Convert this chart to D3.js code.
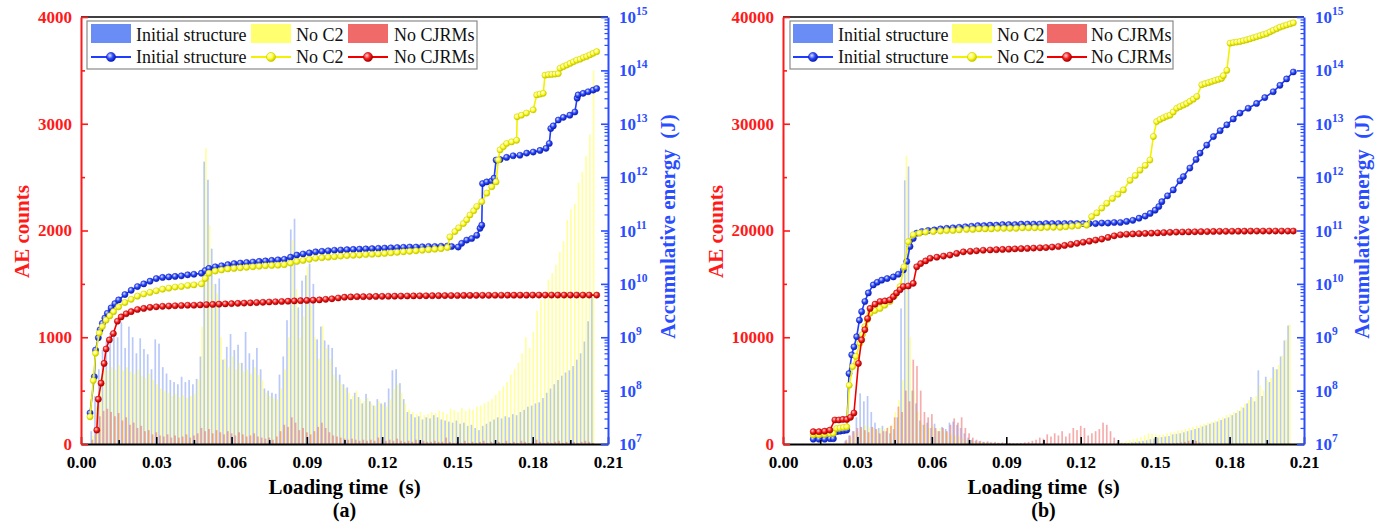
<!DOCTYPE html>
<html>
<head>
<meta charset="utf-8">
<script src="https://cdn.jsdelivr.net/npm/d3@7/dist/d3.min.js"></script>
<style>
  body { margin: 0; background: #ffffff; }
  svg { display: block; }
  text { font-family: "Liberation Serif", "Times New Roman", serif; }
</style>
</head>
<body>
<svg id="chart" width="1388" height="523"></svg>
<script>
// ---------------- data ----------------
const seriesNames = ["Initial structure", "No C2", "No CJRMs"];
const timeTicks = [0, 0.03, 0.06, 0.09, 0.12, 0.15, 0.18, 0.21];
const timeMinorTicks = [0.015, 0.045, 0.075, 0.105, 0.135, 0.165, 0.195];
const countTicksA = [0, 1000, 2000, 3000, 4000];
const countMinorA = [500, 1500, 2500, 3500];
const countTicksB = [0, 10000, 20000, 30000, 40000];
const countMinorB = [5000, 15000, 25000, 35000];
const energyDecades = [7, 8, 9, 10, 11, 12, 13, 14, 15];

// AE count histogram bins (s)
const binWidth = 0.0015;
const binStartA = 0.0045;
const binStartB = 0.0255;

// (a) AE counts per bin
const countsA_initial = [
  120,450,700,880,960,1040,1060,1000,1140,900,
  1100,1000,850,990,890,840,700,980,940,720,
  660,600,580,560,630,580,600,560,610,820,
  2645,2475,1830,1500,1550,790,910,1030,880,930,
  760,1050,850,790,900,700,520,500,480,470,
  650,820,1160,2010,2110,1280,1530,1580,1690,1500,
  980,1100,970,930,900,720,650,560,530,420,
  480,440,380,470,400,360,420,380,390,520,
  690,700,570,420,300,280,250,260,230,250,
  240,270,250,230,220,210,200,220,190,200,
  170,180,150,130,170,190,210,230,250,240,
  260,250,280,270,300,320,350,360,380,390,
  430,480,520,560,600,640,670,690,730,790,
  850,960,1150,1380
];
const countsA_noC2 = [
  80,350,620,700,690,720,700,740,690,720,
  680,660,700,640,620,660,600,560,520,500,
  480,450,470,440,460,430,450,470,600,1100,
  2770,2050,1500,1410,1000,800,720,820,700,760,
  680,700,660,720,650,600,480,450,430,420,
  520,700,1000,1910,1450,1000,1200,1660,1300,1000,
  800,1110,900,800,650,600,560,520,480,450,
  500,420,400,430,380,360,400,370,350,420,
  520,560,480,380,320,300,280,300,270,280,
  300,290,310,300,280,330,320,300,340,310,
  330,320,350,360,380,400,420,460,500,540,
  580,650,700,760,850,1000,900,1050,1250,1350,
  1420,1540,1600,1680,1800,1900,2100,2200,2250,2450,
  2550,2700,2900,3500
];
const countsA_noCJRMs = [
  40,150,260,310,330,300,260,290,220,250,
  180,200,150,170,120,130,90,110,80,70,
  90,60,80,60,70,90,60,80,100,150,
  120,140,100,130,110,90,120,100,80,110,
  90,70,80,100,70,60,50,60,40,70,
  120,180,160,250,200,130,150,110,90,120,
  160,200,150,110,80,70,60,50,40,50,
  40,30,40,30,40,30,60,40,30,40,
  30,50,30,20,30,20,40,20,30,20,
  20,30,20,20,60,20,10,20,10,30,
  10,20,10,20,30,10,20,10,20,10,
  30,10,20,10,30,20,10,20,40,20,
  10,20,10,20,30,10,20,10,20,10,
  20,30,20,10
];

// (b) AE counts per bin
const countsB_initial = [
  300,800,1200,2500,4750,4000,4500,3000,2000,1500,
  1700,1200,1000,1400,2500,12700,24700,26000,5000,3800,
  2200,1800,2000,1500,1900,1200,1600,1400,2000,2100,
  1800,1500,1000,600,400,300,250,200,150,150,
  100,120,100,80,100,80,60,80,60,50,
  40,50,40,30,40,30,20,30,40,30,
  20,30,40,30,20,30,40,30,20,30,
  40,30,20,50,80,100,100,150,200,250,
  300,350,450,500,600,650,700,750,900,950,
  1000,1100,1200,1300,1400,1500,1650,1750,1900,2000,
  2100,2250,2400,2500,2700,2900,3100,3400,3800,4400,
  4000,6900,4500,6300,5800,7200,7000,8200,9700,11100
];
const countsB_noC2 = [
  200,600,1000,1200,1500,1800,1600,1500,1300,1500,
  1400,1600,1800,3000,4100,6000,27000,10000,5000,3000,
  2000,1800,1500,1700,1300,1500,1200,1100,900,800,
  700,500,400,300,250,200,200,150,150,120,
  100,100,80,80,60,60,50,50,40,40,
  30,40,30,30,20,30,30,20,30,30,
  20,30,30,20,30,20,30,30,20,30,
  30,20,30,80,150,250,350,450,550,650,
  800,1000,950,900,850,900,1000,1100,1150,1250,
  1300,1400,1500,1600,1700,1800,1900,2000,2100,2200,
  2400,2500,2700,2800,3000,3200,3500,3800,4100,4300,
  4500,5500,5000,6000,6200,7000,7400,8300,9800,11200
];
const countsB_noCJRMs = [
  400,800,1200,1500,1600,1300,1100,1600,1400,1000,
  1200,1500,1700,2500,3500,3000,5000,4000,7900,7300,
  5000,3000,2500,2800,1500,1200,1500,1200,1800,2400,
  2000,2500,1500,1000,600,400,300,200,250,150,
  200,100,150,80,100,60,80,100,150,200,
  300,400,600,500,900,700,1000,800,1200,700,
  1000,1500,1300,1700,1500,800,1000,1200,1400,2000,
  1800,1200,600,200,100,80,60,50,40,60,
  50,40,30,50,40,60,50,40,80,100,
  150,200,300,250,300,150,80,60,50,40,
  50,40,30,40,30,50,40,30,40,30,
  40,30,20,30,40,30,20,30,20,30
];

// accumulative energy: [time (s), log10 of energy (J)]
const energyA_initial = [
  [0.0036,7.58],[0.0053,8.26],[0.0058,8.76],[0.0069,8.99],[0.0076,9.14],[0.0085,9.26],
  [0.0095,9.36],[0.0105,9.45],[0.012,9.55],[0.0135,9.63],[0.015,9.70],[0.0175,9.80],
  [0.02,9.88],[0.0225,9.95],[0.025,10.00],[0.0275,10.05],[0.03,10.10],[0.0325,10.12],
  [0.035,10.13],[0.0375,10.14],[0.04,10.15],[0.0425,10.17],[0.045,10.18],[0.048,10.20],
  [0.0495,10.25],[0.051,10.29],[0.0535,10.32],[0.056,10.34],[0.0585,10.36],[0.061,10.38],
  [0.0635,10.39],[0.066,10.40],[0.0685,10.41],[0.071,10.42],[0.0735,10.43],[0.076,10.44],
  [0.0785,10.45],[0.081,10.46],[0.0835,10.50],[0.086,10.54],[0.0885,10.56],[0.091,10.58],
  [0.0935,10.60],[0.096,10.61],[0.0985,10.62],[0.101,10.63],[0.1035,10.635],[0.106,10.64],
  [0.1085,10.645],[0.111,10.65],[0.1135,10.655],[0.116,10.66],[0.1185,10.665],[0.121,10.67],
  [0.1235,10.675],[0.126,10.68],[0.1285,10.685],[0.131,10.69],[0.1335,10.69],[0.136,10.695],
  [0.1385,10.70],[0.141,10.70],[0.1435,10.705],[0.146,10.71],[0.1477,10.70],[0.1503,10.69],
  [0.1517,10.76],[0.1537,10.82],[0.1557,10.85],[0.1577,10.91],[0.159,11.04],[0.1597,11.10],
  [0.160,11.88],[0.1617,11.91],[0.1637,11.93],[0.1646,11.98],[0.1654,12.32],[0.167,12.33],
  [0.1696,12.37],[0.1722,12.40],[0.1749,12.41],[0.1776,12.45],[0.1802,12.47],[0.1829,12.50],
  [0.1853,12.54],[0.1866,12.63],[0.1872,12.91],[0.1882,12.96],[0.1902,13.07],[0.1922,13.12],
  [0.1948,13.16],[0.1968,13.22],[0.1977,13.48],[0.1981,13.54],[0.2001,13.57],[0.2021,13.60],
  [0.2041,13.63],[0.2055,13.66]
];
const energyA_noC2 = [
  [0.0036,7.51],[0.0049,8.19],[0.0058,8.70],[0.0073,9.08],[0.0085,9.20],[0.010,9.32],
  [0.0115,9.40],[0.013,9.48],[0.015,9.57],[0.0175,9.65],[0.02,9.71],[0.0225,9.77],
  [0.025,9.81],[0.0275,9.84],[0.03,9.87],[0.0325,9.90],[0.035,9.92],[0.0375,9.94],
  [0.04,9.95],[0.0425,9.97],[0.045,9.98],[0.048,10.00],[0.0495,10.10],[0.051,10.20],
  [0.0535,10.24],[0.056,10.26],[0.0585,10.28],[0.061,10.29],[0.0635,10.30],[0.066,10.31],
  [0.0685,10.32],[0.071,10.33],[0.0735,10.34],[0.076,10.345],[0.0785,10.35],[0.081,10.36],
  [0.0835,10.39],[0.086,10.42],[0.0885,10.44],[0.091,10.46],[0.0935,10.48],[0.096,10.49],
  [0.0985,10.50],[0.101,10.51],[0.1035,10.52],[0.106,10.53],[0.1085,10.535],[0.111,10.54],
  [0.1135,10.55],[0.116,10.555],[0.1185,10.56],[0.121,10.57],[0.1235,10.58],[0.126,10.59],
  [0.1285,10.60],[0.131,10.61],[0.1335,10.62],[0.136,10.63],[0.1385,10.64],[0.141,10.65],
  [0.1435,10.66],[0.146,10.68],[0.147,10.88],[0.149,10.98],[0.1505,11.05],[0.1524,11.13],
  [0.1537,11.20],[0.155,11.29],[0.1565,11.37],[0.1577,11.45],[0.1597,11.54],[0.1617,11.70],
  [0.1637,11.82],[0.1654,11.91],[0.1663,12.32],[0.167,12.51],[0.1683,12.57],[0.1696,12.63],
  [0.1716,12.66],[0.1736,12.69],[0.1738,13.13],[0.1755,13.16],[0.1775,13.20],[0.1802,13.26],
  [0.1816,13.54],[0.1829,13.555],[0.1842,13.57],[0.1849,13.91],[0.1862,13.92],[0.1876,13.925],
  [0.1889,13.93],[0.1902,13.94],[0.1909,14.04],[0.1922,14.07],[0.1936,14.10],[0.1949,14.13],
  [0.1962,14.16],[0.1975,14.19],[0.1989,14.21],[0.2002,14.24],[0.2015,14.26],[0.2028,14.29],
  [0.2041,14.32],[0.2055,14.35]
];
const energyA_noCJRMs = [
  [0.0063,7.26],[0.0069,7.84],[0.008,8.14],[0.0092,8.51],[0.010,8.78],[0.0113,8.95],
  [0.0129,9.07],[0.0145,9.30],[0.016,9.38],[0.018,9.44],[0.02,9.48],[0.0225,9.52],
  [0.025,9.54],[0.0275,9.56],[0.03,9.57],[0.0325,9.58],[0.035,9.585],[0.0375,9.59],
  [0.04,9.595],[0.0425,9.60],[0.045,9.60],[0.0475,9.605],[0.05,9.61],[0.0525,9.615],
  [0.055,9.62],[0.0575,9.625],[0.06,9.63],[0.0625,9.635],[0.065,9.64],[0.0675,9.645],
  [0.07,9.65],[0.0725,9.655],[0.075,9.66],[0.0775,9.665],[0.08,9.67],[0.0825,9.675],
  [0.085,9.68],[0.0875,9.685],[0.09,9.69],[0.0925,9.695],[0.095,9.70],[0.0975,9.71],
  [0.1,9.72],[0.1025,9.735],[0.105,9.75],[0.1075,9.755],[0.11,9.76],[0.1125,9.76],
  [0.115,9.762],[0.1175,9.765],[0.12,9.766],[0.1225,9.768],[0.125,9.77],[0.1275,9.772],
  [0.13,9.773],[0.1325,9.775],[0.135,9.776],[0.1375,9.777],[0.14,9.778],[0.1425,9.779],
  [0.145,9.78],[0.1475,9.781],[0.15,9.782],[0.1525,9.783],[0.155,9.784],[0.1575,9.785],
  [0.16,9.786],[0.1625,9.786],[0.165,9.787],[0.1675,9.787],[0.17,9.788],[0.1725,9.788],
  [0.175,9.789],[0.1775,9.789],[0.18,9.79],[0.1825,9.79],[0.185,9.79],[0.1875,9.79],
  [0.19,9.79],[0.1925,9.79],[0.195,9.79],[0.1975,9.79],[0.2,9.79],[0.2025,9.79],
  [0.2055,9.79]
];

const energyB_initial = [
  [0.0122,7.09],[0.0145,7.09],[0.0168,7.09],[0.019,7.10],[0.0203,7.10],[0.0216,7.23],
  [0.023,7.24],[0.0244,7.25],[0.0257,7.26],[0.0266,8.32],[0.0277,8.67],[0.0286,8.82],
  [0.0297,9.01],[0.0308,9.32],[0.0317,9.48],[0.033,9.67],[0.0344,9.83],[0.0364,9.98],
  [0.038,10.03],[0.0398,10.07],[0.042,10.10],[0.0445,10.13],[0.0465,10.18],[0.0485,10.26],
  [0.0499,10.42],[0.0512,10.70],[0.0525,10.85],[0.0539,10.95],[0.056,10.98],[0.0585,11.00],
  [0.061,11.01],[0.0635,11.03],[0.066,11.04],[0.0685,11.05],[0.071,11.06],[0.0735,11.07],
  [0.076,11.08],[0.0785,11.09],[0.081,11.09],[0.0835,11.10],[0.086,11.10],[0.0885,11.11],
  [0.091,11.11],[0.0935,11.11],[0.096,11.12],[0.0985,11.12],[0.101,11.12],[0.1035,11.12],
  [0.106,11.13],[0.1085,11.13],[0.111,11.13],[0.1135,11.13],[0.116,11.13],[0.1185,11.13],
  [0.121,11.13],[0.1235,11.13],[0.126,11.13],[0.1285,11.14],[0.131,11.14],[0.1335,11.15],
  [0.136,11.15],[0.1385,11.17],[0.141,11.19],[0.1435,11.23],[0.146,11.27],[0.148,11.32],
  [0.150,11.38],[0.1515,11.45],[0.1527,11.54],[0.155,11.65],[0.1573,11.76],[0.160,11.93],
  [0.1614,12.01],[0.164,12.17],[0.1665,12.33],[0.1681,12.45],[0.1708,12.60],[0.1735,12.76],
  [0.1762,12.87],[0.1789,12.98],[0.1815,13.09],[0.1842,13.20],[0.1875,13.29],[0.1909,13.38],
  [0.1942,13.49],[0.1976,13.60],[0.2003,13.72],[0.203,13.84],[0.2057,13.97]
];
const energyB_noC2 = [
  [0.0122,7.17],[0.0145,7.17],[0.0168,7.18],[0.019,7.19],[0.0203,7.20],[0.0216,7.29],
  [0.023,7.30],[0.0244,7.31],[0.0257,7.32],[0.0267,8.10],[0.0281,8.45],[0.0294,8.64],
  [0.031,8.89],[0.032,9.05],[0.033,9.20],[0.034,9.33],[0.0351,9.45],[0.037,9.50],
  [0.0391,9.54],[0.041,9.60],[0.0431,9.67],[0.045,9.78],[0.0472,9.95],[0.0488,10.32],
  [0.0505,10.79],[0.0525,10.92],[0.055,10.95],[0.0575,10.97],[0.0606,10.98],[0.0635,10.99],
  [0.066,11.00],[0.0685,11.00],[0.071,11.01],[0.074,11.02],[0.0765,11.02],[0.079,11.03],
  [0.0815,11.03],[0.084,11.03],[0.0865,11.04],[0.089,11.04],[0.0915,11.04],[0.094,11.04],
  [0.0965,11.05],[0.099,11.05],[0.1015,11.05],[0.104,11.05],[0.1065,11.06],[0.109,11.06],
  [0.1117,11.06],[0.114,11.07],[0.1165,11.08],[0.119,11.09],[0.1224,11.10],[0.1244,11.26],
  [0.1265,11.33],[0.1285,11.42],[0.1305,11.51],[0.1328,11.60],[0.135,11.68],[0.1372,11.76],
  [0.1399,11.94],[0.142,12.03],[0.1439,12.13],[0.146,12.22],[0.1479,12.32],[0.1493,12.76],
  [0.1506,13.04],[0.152,13.08],[0.1533,13.11],[0.1547,13.14],[0.156,13.16],[0.1573,13.22],
  [0.1587,13.29],[0.160,13.32],[0.1614,13.35],[0.1627,13.38],[0.164,13.42],[0.1654,13.46],
  [0.1668,13.51],[0.1688,13.73],[0.1701,13.75],[0.1715,13.77],[0.1728,13.79],[0.1741,13.81],
  [0.1755,13.83],[0.1768,13.85],[0.1775,13.90],[0.1789,14.00],[0.1802,14.51],[0.1815,14.52],
  [0.1829,14.53],[0.1842,14.54],[0.1855,14.555],[0.1869,14.57],[0.1882,14.59],[0.1896,14.61],
  [0.1909,14.63],[0.1923,14.65],[0.1936,14.67],[0.195,14.69],[0.1963,14.72],[0.1976,14.75],
  [0.199,14.78],[0.2003,14.81],[0.2017,14.83],[0.203,14.85],[0.2044,14.87],[0.2057,14.89]
];
const energyB_noCJRMs = [
  [0.0122,7.23],[0.0145,7.23],[0.0168,7.24],[0.0189,7.26],[0.0209,7.45],[0.0225,7.45],
  [0.0241,7.46],[0.0257,7.46],[0.0272,7.50],[0.0286,7.58],[0.0304,8.51],[0.0317,8.95],
  [0.033,9.14],[0.0341,9.35],[0.0351,9.54],[0.0371,9.62],[0.0391,9.67],[0.0411,9.68],
  [0.0431,9.70],[0.0445,9.76],[0.0458,9.83],[0.0472,9.89],[0.0485,9.95],[0.0505,9.96],
  [0.0525,10.01],[0.0539,10.32],[0.0555,10.38],[0.0575,10.43],[0.0593,10.48],[0.062,10.50],
  [0.0647,10.52],[0.0673,10.54],[0.070,10.57],[0.0727,10.60],[0.0755,10.61],[0.078,10.62],
  [0.0807,10.63],[0.0835,10.635],[0.086,10.64],[0.0885,10.645],[0.091,10.65],[0.0935,10.655],
  [0.096,10.66],[0.0985,10.665],[0.101,10.67],[0.1036,10.675],[0.106,10.68],[0.1085,10.69],
  [0.111,10.70],[0.1135,10.72],[0.116,10.74],[0.1185,10.76],[0.121,10.78],[0.1235,10.80],
  [0.126,10.82],[0.1285,10.84],[0.131,10.87],[0.1335,10.90],[0.136,10.92],[0.1385,10.93],
  [0.141,10.935],[0.1435,10.94],[0.146,10.945],[0.1485,10.95],[0.151,10.955],[0.1535,10.96],
  [0.156,10.965],[0.1585,10.97],[0.161,10.972],[0.1635,10.974],[0.166,10.976],[0.1685,10.978],
  [0.171,10.98],[0.1735,10.982],[0.176,10.984],[0.1785,10.985],[0.181,10.986],[0.1835,10.987],
  [0.186,10.988],[0.1885,10.989],[0.191,10.99],[0.1935,10.99],[0.196,10.99],[0.1985,10.99],
  [0.201,10.99],[0.2035,10.99],[0.2057,10.99]
];

// ---------------- styles ----------------
const barColors = ["#6487f2", "#ffff50", "#ee5a5a"];
const barOpacity = [0.45, 0.55, 0.5];
// column placement inside one bin, as fractions of the bin width
const barOffset = [-0.5, -0.05, -0.22];
const barFrac = [0.45, 0.45, 0.45];
const swatchColors = ["#6a8df5", "#ffff70", "#f06a6a"];
const lineColors = ["#1f3cff", "#f2f200", "#ee0000"];
const markerStops = [
  ["#dfe5ff", "#2e4cff", "#0a1ea8"],
  ["#ffffff", "#ffff30", "#c4c400"],
  ["#ffd6d6", "#ff2222", "#9a0000"]
];
const markerEdge = ["#1020c0", "#cccc00", "#b00000"];
const SERIF = '"Liberation Serif", "Times New Roman", serif';

const svg = d3.select("#chart");
const defs = svg.append("defs");
markerStops.forEach((st, s) => {
  const gr = defs.append("radialGradient").attr("id", "ball" + s)
    .attr("cx", "38%").attr("cy", "35%").attr("r", "65%");
  gr.append("stop").attr("offset", "0%").attr("stop-color", st[0]);
  gr.append("stop").attr("offset", "50%").attr("stop-color", st[1]);
  gr.append("stop").attr("offset", "100%").attr("stop-color", st[2]);
});

const panels = [
  {
    left: 81, right: 608, top: 17, bottom: 444,
    countMax: 4000, countTicks: countTicksA, countMinor: countMinorA,
    binStart: binStartA,
    counts: [countsA_initial, countsA_noC2, countsA_noCJRMs],
    energy: [energyA_initial, energyA_noC2, energyA_noCJRMs],
    legend: { x: 87, y: 21, w: 390, h: 48, sw: [4, 164, 261], tx: [49, 209, 307] },
    leftTitleX: 22, rightTitleX: 668, tag: "(a)"
  },
  {
    left: 783, right: 1304, top: 17, bottom: 444,
    countMax: 40000, countTicks: countTicksB, countMinor: countMinorB,
    binStart: binStartB,
    counts: [countsB_initial, countsB_noC2, countsB_noCJRMs],
    energy: [energyB_initial, energyB_noC2, energyB_noCJRMs],
    legend: { x: 790, y: 21, w: 383, h: 48, sw: [3, 162, 257], tx: [48, 207, 301] },
    leftTitleX: 716, rightTitleX: 1362, tag: "(b)"
  }
];

function styleAxis(g, color, width) {
  g.select(".domain").attr("stroke", color).attr("stroke-width", width);
  g.selectAll(".tick line").attr("stroke", color).attr("stroke-width", 1.6);
}

function drawPanel(p) {
  const g = svg.append("g");
  const x = d3.scaleLinear().domain([0, 0.21]).range([p.left, p.right]);
  const yC = d3.scaleLinear().domain([0, p.countMax]).range([p.bottom, p.top]);
  const yE = d3.scaleLog().domain([1e7, 1e15]).range([p.bottom, p.top]);

  // histogram columns, three overlapping translucent series in every bin
  const binPx = x(binWidth) - x(0);
  p.counts.forEach((arr, s) => {
    g.append("g").selectAll("rect").data(arr).join("rect")
      .attr("x", (d, i) => x(p.binStart + i * binWidth) + barOffset[s] * binPx)
      .attr("width", barFrac[s] * binPx)
      .attr("y", d => yC(d))
      .attr("height", d => yC(0) - yC(d))
      .attr("fill", barColors[s])
      .attr("fill-opacity", barOpacity[s]);
  });

  // accumulative energy lines with ball markers
  const line = d3.line().x(d => x(d[0])).y(d => yE(Math.pow(10, d[1])));
  p.energy.forEach((arr, s) => {
    const lg = g.append("g");
    lg.append("path").datum(arr).attr("d", line)
      .attr("fill", "none").attr("stroke", lineColors[s]).attr("stroke-width", 1.6);
    lg.selectAll("circle").data(arr).join("circle")
      .attr("cx", d => x(d[0])).attr("cy", d => yE(Math.pow(10, d[1])))
      .attr("r", 3.1)
      .attr("fill", `url(#ball${s})`)
      .attr("stroke", markerEdge[s]).attr("stroke-width", 0.5);
  });

  // top frame
  g.append("line").attr("x1", p.left).attr("x2", p.right)
    .attr("y1", p.top).attr("y2", p.top)
    .attr("stroke", "#000").attr("stroke-width", 1.6);

  // bottom axis
  const xb = g.append("g").attr("transform", `translate(0,${p.bottom})`)
    .call(d3.axisBottom(x).tickValues(timeTicks).tickFormat(d3.format(".2f"))
      .tickSizeInner(-7).tickSizeOuter(0).tickPadding(12));
  styleAxis(xb, "#000", 2);
  xb.selectAll(".tick text").attr("font-family", SERIF).attr("font-size", 17)
    .attr("font-weight", "bold").attr("fill", "#000");
  const xm = g.append("g").attr("transform", `translate(0,${p.bottom})`)
    .call(d3.axisBottom(x).tickValues(timeMinorTicks).tickFormat("")
      .tickSizeInner(-4).tickSizeOuter(0));
  xm.select(".domain").remove();
  xm.selectAll(".tick line").attr("stroke", "#000").attr("stroke-width", 1.6);

  // left count axis
  const yl = g.append("g").attr("transform", `translate(${p.left},0)`)
    .call(d3.axisLeft(yC).tickValues(p.countTicks).tickFormat(d3.format("d"))
      .tickSizeInner(-7).tickSizeOuter(0).tickPadding(9));
  styleAxis(yl, "#ff1a1a", 2);
  yl.selectAll(".tick text").attr("font-family", SERIF).attr("font-size", 17)
    .attr("font-weight", "bold").attr("fill", "#ff1a1a");
  const ylm = g.append("g").attr("transform", `translate(${p.left},0)`)
    .call(d3.axisLeft(yC).tickValues(p.countMinor).tickFormat("")
      .tickSizeInner(-4).tickSizeOuter(0));
  ylm.select(".domain").remove();
  ylm.selectAll(".tick line").attr("stroke", "#ff1a1a").attr("stroke-width", 1.6);

  // right log energy axis
  const yr = g.append("g").attr("transform", `translate(${p.right},0)`)
    .call(d3.axisRight(yE).tickValues(energyDecades.map(e => Math.pow(10, e)))
      .tickFormat("").tickSizeInner(-7).tickSizeOuter(0));
  styleAxis(yr, "#2a4dff", 2);
  const minorE = [];
  energyDecades.slice(0, -1).forEach(e => {
    for (let k = 2; k <= 9; k++) minorE.push(k * Math.pow(10, e));
  });
  const yrm = g.append("g").attr("transform", `translate(${p.right},0)`)
    .call(d3.axisRight(yE).tickValues(minorE).tickFormat("")
      .tickSizeInner(-3.5).tickSizeOuter(0));
  yrm.select(".domain").remove();
  yrm.selectAll(".tick line").attr("stroke", "#2a4dff").attr("stroke-width", 1.2);

  const rl = g.append("g");
  energyDecades.forEach(e => {
    const t = rl.append("text")
      .attr("x", p.right + 11).attr("y", yE(Math.pow(10, e)) + 6)
      .attr("font-family", SERIF).attr("font-weight", "bold")
      .attr("fill", "#2a4dff").attr("font-size", 17);
    t.append("tspan").text("10");
    t.append("tspan").attr("dy", -8).attr("font-size", 11.5).text(String(e));
  });

  // axis titles
  g.append("text")
    .attr("transform", `translate(${p.leftTitleX},${(p.top + p.bottom) / 2 + 1}) rotate(-90)`)
    .attr("text-anchor", "middle").attr("dy", "0.35em")
    .attr("font-family", SERIF).attr("font-weight", "bold").attr("font-size", 21)
    .attr("fill", "#ff1a1a").text("AE counts");
  g.append("text")
    .attr("transform", `translate(${p.rightTitleX},${(p.top + p.bottom) / 2 - 4}) rotate(-90)`)
    .attr("text-anchor", "middle").attr("dy", "0.35em")
    .attr("font-family", SERIF).attr("font-weight", "bold").attr("font-size", 21)
    .attr("fill", "#2a4dff").style("white-space", "pre").text("Accumulative energy  (J)");
  const cx = (p.left + p.right) / 2;
  g.append("text").attr("x", cx).attr("y", 494).attr("text-anchor", "middle")
    .attr("font-family", SERIF).attr("font-weight", "bold").attr("font-size", 21)
    .attr("fill", "#000").style("white-space", "pre").text("Loading time  (s)");
  g.append("text").attr("x", cx).attr("y", 517).attr("text-anchor", "middle")
    .attr("font-family", SERIF).attr("font-weight", "bold").attr("font-size", 20)
    .attr("fill", "#000").text(p.tag);

  // legend
  const L = p.legend;
  const lg = g.append("g").attr("transform", `translate(${L.x},${L.y})`);
  lg.append("rect").attr("width", L.w).attr("height", L.h)
    .attr("fill", "#fff").attr("stroke", "#8a8a8a").attr("stroke-width", 1.2);
  seriesNames.forEach((name, s) => {
    lg.append("rect").attr("x", L.sw[s]).attr("y", 3).attr("width", 40).attr("height", 19)
      .attr("fill", swatchColors[s]);
    lg.append("text").attr("x", L.tx[s]).attr("y", 20)
      .attr("font-family", SERIF).attr("font-size", 18).attr("fill", "#111").text(name);
    lg.append("line").attr("x1", L.sw[s]).attr("x2", L.sw[s] + 40)
      .attr("y1", 36).attr("y2", 36)
      .attr("stroke", lineColors[s]).attr("stroke-width", 1.8);
    lg.append("circle").attr("cx", L.sw[s] + 20).attr("cy", 36).attr("r", 4.6)
      .attr("fill", `url(#ball${s})`).attr("stroke", markerEdge[s]).attr("stroke-width", 0.6);
    lg.append("text").attr("x", L.tx[s]).attr("y", 42)
      .attr("font-family", SERIF).attr("font-size", 18).attr("fill", "#111").text(name);
  });
}

panels.forEach(drawPanel);
</script>
</body>
</html>
